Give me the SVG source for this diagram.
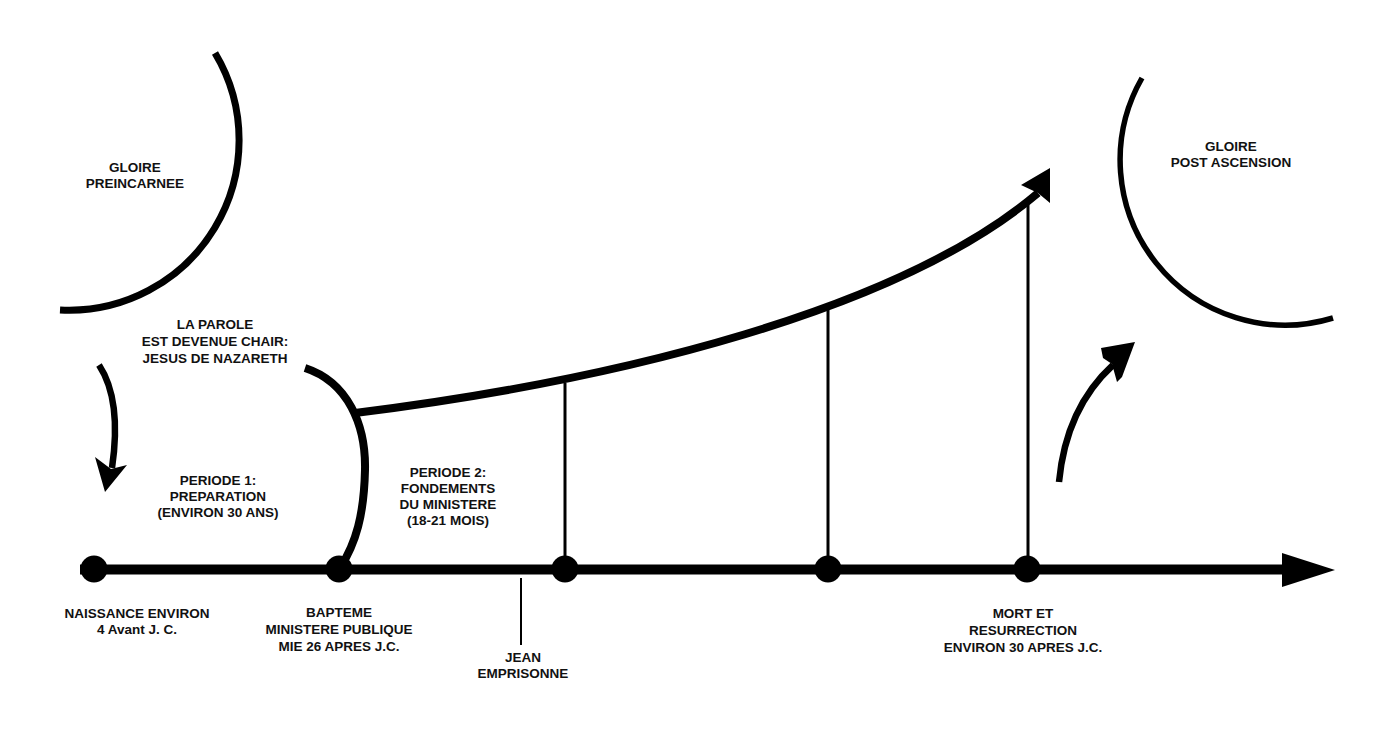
<svg xmlns="http://www.w3.org/2000/svg" width="1400" height="731" viewBox="0 0 1400 731">
<style>
  .lbl { font-family: "Liberation Sans", Arial, sans-serif; font-weight: bold; font-size: 13.5px; fill: #111; text-anchor: middle; }
  .thick { fill: none; stroke: #000; stroke-width: 8; }
  .thin { fill: none; stroke: #000; stroke-width: 3; }
  .dot { fill: #000; }
  .head { fill: #000; stroke: none; }
</style>
<rect width="1400" height="731" fill="#fff"/>

<g id="gloire-preincarnee">
  <path d="M215,53 A170,170 0 0 1 60,310" fill="none" stroke="#000" stroke-width="7"/>
  <text class="lbl" x="135" y="172">GLOIRE</text>
  <text class="lbl" x="135" y="188">PREINCARNEE</text>
</g>

<g id="gloire-post-ascension">
  <path d="M1142,78 A165,165 0 0 0 1333,318" fill="none" stroke="#000" stroke-width="5.5"/>
  <text class="lbl" x="1231" y="151">GLOIRE</text>
  <text class="lbl" x="1231" y="167">POST ASCENSION</text>
</g>

<g id="incarnation">
  <text class="lbl" x="215" y="329">LA PAROLE</text>
  <text class="lbl" x="215" y="346">EST DEVENUE CHAIR:</text>
  <text class="lbl" x="215" y="363">JESUS DE NAZARETH</text>
</g>

<g id="periode1">
  <text class="lbl" x="218" y="485">PERIODE 1:</text>
  <text class="lbl" x="218" y="501">PREPARATION</text>
  <text class="lbl" x="218" y="517">(ENVIRON 30 ANS)</text>
</g>

<g id="periode2">
  <text class="lbl" x="448" y="477">PERIODE 2:</text>
  <text class="lbl" x="448" y="493">FONDEMENTS</text>
  <text class="lbl" x="448" y="509">DU MINISTERE</text>
  <text class="lbl" x="448" y="525">(18-21 MOIS)</text>
</g>

<g id="connectors">
  <!-- timeline -->
  <line x1="80" y1="569.5" x2="1290" y2="569.5" stroke="#000" stroke-width="10"/>
  <polygon class="head" points="1282,553 1335,570 1282,587"/>
  <!-- incarnation arc -->
  <path class="thick" d="M305,368 C348,382 366,425 365,470 C364,515 356,543 340,568" stroke-width="8.5"/>
  <!-- ministry curve -->
  <path class="thick" d="M355,413 C620,380 900,310 1038,193"/>
  <polygon class="head" points="1050,168 1050,203 1038,193 1021,185"/>
  <!-- verticals -->
  <line class="thin" x1="565" y1="383" x2="565" y2="570"/>
  <line class="thin" x1="828" y1="310" x2="828" y2="570"/>
  <line class="thin" x1="1028" y1="205" x2="1028" y2="570"/>
  <!-- jean tick -->
  <line x1="521" y1="578" x2="521" y2="645" stroke="#000" stroke-width="2"/>
  <!-- down arrow -->
  <path d="M99,365 Q122,400 112,468" fill="none" stroke="#000" stroke-width="6.5"/>
  <polygon class="head" points="105,492 95,457 111,469 127,465"/>
  <!-- up arrow -->
  <path d="M1059,482 Q1066,408 1113,365" fill="none" stroke="#000" stroke-width="6.5"/>
  <polygon class="head" points="1135,342 1101,348 1103,358 1112,364 1117,382 1122,377"/>
</g>

<g id="naissance">
  <circle class="dot" cx="94" cy="569" r="13.5"/>
  <text class="lbl" x="137" y="618">NAISSANCE ENVIRON</text>
  <text class="lbl" x="137" y="634">4 Avant J. C.</text>
</g>

<g id="bapteme">
  <circle class="dot" cx="339" cy="569" r="13.5"/>
  <text class="lbl" x="339" y="617">BAPTEME</text>
  <text class="lbl" x="339" y="634">MINISTERE PUBLIQUE</text>
  <text class="lbl" x="339" y="651">MIE 26 APRES J.C.</text>
</g>

<g id="jean">
  <text class="lbl" x="523" y="662">JEAN</text>
  <text class="lbl" x="523" y="678">EMPRISONNE</text>
</g>

<g id="point3">
  <circle class="dot" cx="565" cy="569" r="13.5"/>
</g>

<g id="point4">
  <circle class="dot" cx="828" cy="569" r="13.5"/>
</g>

<g id="mort">
  <circle class="dot" cx="1027" cy="569" r="13.5"/>
  <text class="lbl" x="1023" y="618">MORT ET</text>
  <text class="lbl" x="1023" y="635">RESURRECTION</text>
  <text class="lbl" x="1023" y="652">ENVIRON 30 APRES J.C.</text>
</g>
</svg>
